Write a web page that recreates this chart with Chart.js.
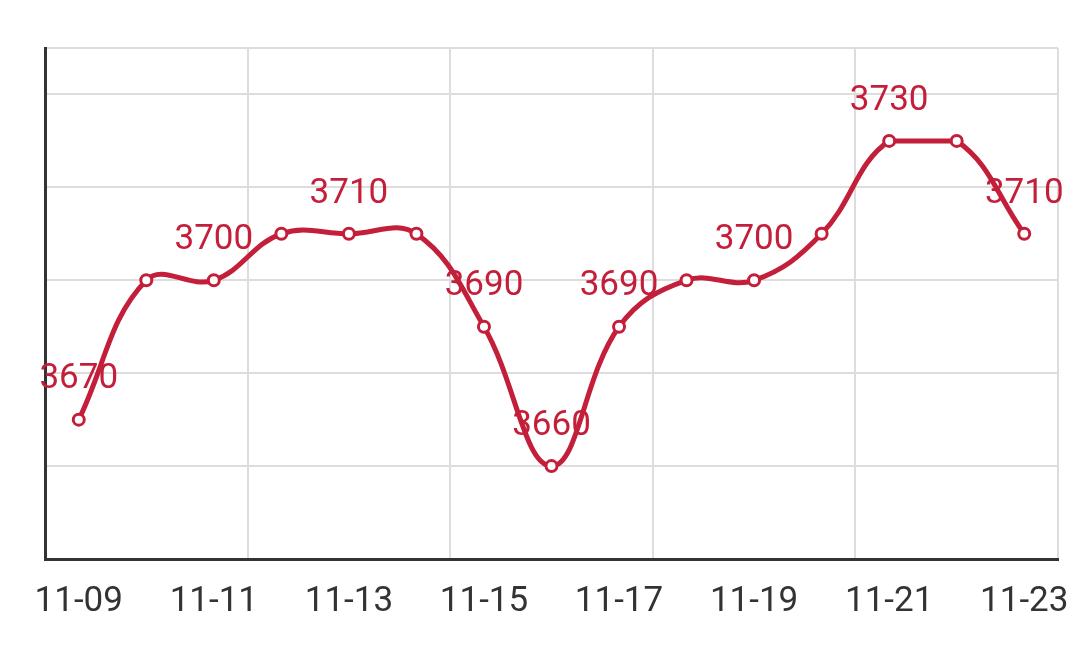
<!DOCTYPE html>
<html>
<head>
<meta charset="utf-8">
<script src="https://cdn.jsdelivr.net/npm/chart.js@4/dist/chart.umd.min.js"></script>
<style>
  html, body { margin: 0; padding: 0; background: #fff; }
  #wrap { width: 1079px; height: 656px; }
</style>
</head>
<body>
<div id="wrap"><canvas id="priceChart"></canvas></div>
<script>
// data
const days = ['11-09', '11-10', '11-11', '11-12', '11-13', '11-14', '11-15', '11-16',
              '11-17', '11-18', '11-19', '11-20', '11-21', '11-22', '11-23'];
const prices = [3670, 3700, 3700, 3710, 3710, 3710, 3690, 3660,
                3690, 3700, 3700, 3710, 3730, 3730, 3710];
// points that carry a value label
const labelled = [0, 2, 4, 6, 7, 8, 10, 12, 14];
// segments (start index) drawn flat instead of curved
const flatSegments = [12];

const red = '#c41f3a';

// value labels under the line, and flatten the plateau segment
const valueLabels = {
    id: 'valueLabels',
    beforeDatasetsDraw(chart) {
        const meta = chart.getDatasetMeta(0);
        const line = meta.dataset;
        line.updateControlPoints(chart.chartArea, 'x');
        flatSegments.forEach(i => {
            const a = meta.data[i], b = meta.data[i + 1];
            a.cp2y = a.y;
            b.cp1y = b.y;
        });
        delete line._path;

        const c = chart.ctx;
        c.save();
        c.font = '35px Roboto';
        c.fillStyle = red;
        c.textAlign = 'center';
        c.textBaseline = 'middle';
        labelled.forEach(i => {
            const p = meta.data[i];
            c.fillText(String(prices[i]), p.x, p.y - 40);
        });
        c.restore();
    }
};

new Chart(document.getElementById('priceChart'), {
    type: 'line',
    data: {
        labels: days,
        datasets: [{
            data: prices,
            borderColor: red,
            borderWidth: 5,
            tension: 0.4,
            pointRadius: 5.5,
            pointBorderWidth: 3,
            pointBackgroundColor: '#fff',
            pointBorderColor: red
        }]
    },
    options: {
        responsive: true,
        maintainAspectRatio: false,
        animation: false,
        layout: { padding: { left: 45, right: 21, top: 48, bottom: 33 } },
        plugins: { legend: { display: false }, tooltip: { enabled: false } },
        scales: {
            x: {
                offset: true,
                grid: {
                    offset: true,
                    drawTicks: true,
                    tickLength: 22,
                    tickWidth: 0,
                    lineWidth: 2,
                    color: ctx => ((ctx.index ?? days.length) % 3 === 0 ? '#dddddd' : 'rgba(0,0,0,0)')
                },
                border: { color: '#333333', width: 3 },
                ticks: {
                    autoSkip: false,
                    maxRotation: 0,
                    padding: 0,
                    color: '#333333',
                    font: { family: 'Roboto', size: 35 },
                    callback: (v, i) => (i % 2 === 0 ? days[i] : '')
                }
            },
            y: {
                min: 3640,
                max: 3750,
                grid: { drawTicks: false, lineWidth: 2, color: '#dddddd' },
                border: { color: '#333333', width: 3 },
                ticks: { display: false, stepSize: 20 }
            }
        }
    },
    plugins: [valueLabels]
});
</script>
</body>
</html>
